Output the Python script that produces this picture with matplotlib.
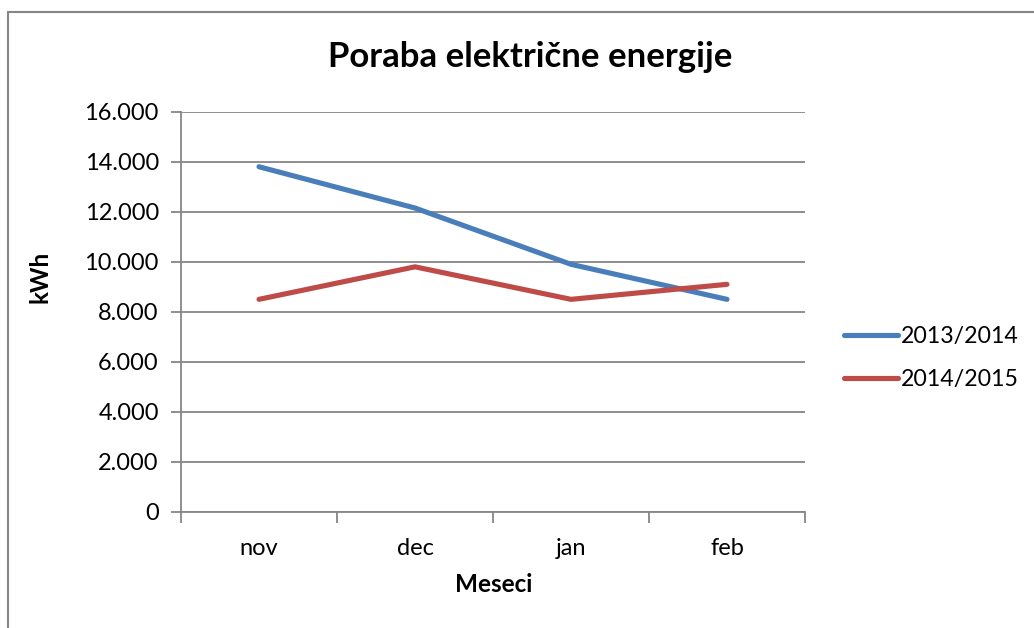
import matplotlib.pyplot as plt
from matplotlib.patches import Rectangle
from matplotlib.ticker import FuncFormatter, FixedLocator

plt.rcParams['font.family'] = ['Lato', 'DejaVu Sans']

# data
months = ["nov", "dec", "jan", "feb"]
season_2013_2014 = [13800, 12150, 9900, 8500]
season_2014_2015 = [8500, 9800, 8500, 9100]
series_names = ["2013/2014", "2014/2015"]
yticks = list(range(0, 16001, 2000))

W, H = 1034, 628
fig = plt.figure(figsize=(W / 100, H / 100), dpi=100)

# outer chart border (right/bottom edges are cut off in the reference)
fig.patches.append(Rectangle((8 / W, -0.1), 1.2, 1 - 12 / H + 0.1,
                             transform=fig.transFigure, fill=False,
                             edgecolor="#868686", linewidth=1.5))

left, right, bottom, top = 181 / W, 805 / W, (H - 512) / H, (H - 111.7) / H
ax = fig.add_axes([left, bottom, right - left, top - bottom])

grey = "#868686"
x = [i + 0.5 for i in range(len(months))]
ax.plot(x, season_2013_2014, color="#4A7EBB", lw=3.7, solid_capstyle="round",
        solid_joinstyle="round", label=series_names[0], zorder=3)
ax.plot(x, season_2014_2015, color="#BE4B48", lw=3.7, solid_capstyle="round",
        solid_joinstyle="round", label=series_names[1], zorder=3)

ax.set_xlim(0, len(months))
ax.set_ylim(0, 16000)
ax.set_yticks(yticks)
ax.yaxis.set_major_formatter(FuncFormatter(lambda v, p: f"{int(v):,}".replace(",", ".")))
ax.grid(axis="y", color=grey, lw=1.3)
ax.set_axisbelow(True)

# category labels centred, tick marks at the boundaries
ax.xaxis.set_major_locator(FixedLocator(range(len(months) + 1)))
ax.set_xticklabels([])
ax.xaxis.set_minor_locator(FixedLocator(x))
ax.set_xticklabels(months, minor=True)
ax.tick_params(axis="x", which="minor", length=0, pad=19, labelsize=17)
ax.tick_params(axis="x", which="major", length=8, width=1.3, color=grey)
ax.tick_params(axis="y", length=7, width=1.3, color=grey, labelsize=17, pad=9)

for s in ["top", "right"]:
    ax.spines[s].set_visible(False)
for s in ["left", "bottom"]:
    ax.spines[s].set_color(grey)
    ax.spines[s].set_linewidth(1.3)

fig.text(530 / W, 1 - 57 / H, "Poraba električne energije", ha="center", va="center",
         fontsize=25, fontweight="bold")
fig.text(40 / W, 1 - 277 / H, "kWh", ha="center", va="center", rotation=90,
         fontsize=17.5, fontweight="bold")
fig.text(494 / W, 1 - 585 / H, "Meseci", ha="center", va="center",
         fontsize=17.5, fontweight="bold")

ax.legend(loc="center left", bbox_to_anchor=(835 / W, 1 - 358 / H),
          bbox_transform=fig.transFigure, frameon=False, fontsize=16.7,
          handlelength=2.3, handletextpad=0.15, labelspacing=0.95, borderaxespad=0)

fig.savefig("out.png", dpi=100)
